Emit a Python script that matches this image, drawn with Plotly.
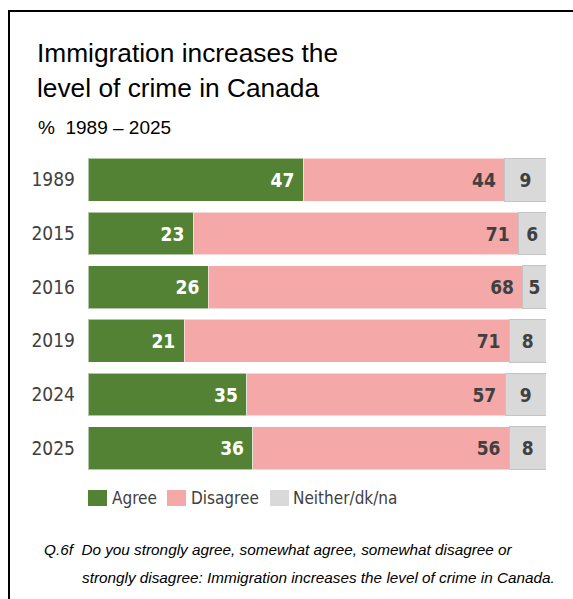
import plotly.graph_objects as go

years = ["1989", "2015", "2016", "2019", "2024", "2025"]
agree = [47, 23, 26, 21, 35, 36]
disagree = [44, 71, 68, 71, 57, 56]
neither = [9, 6, 5, 8, 9, 8]
series_names = ["Agree", "Disagree", "Neither/dk/na"]

W, H = 573, 599
L, R, T, B = 88, 27, 153, 124
PW, PH = W - L - R, H - T - B

def xp(px):
    return (px - L) / PW

def yp(py):
    return (H - B - py) / PH

COND = "DejaVu Sans Condensed, Liberation Sans Narrow, Arial Narrow, sans-serif"
ARIAL = "Liberation Sans, Arial, sans-serif"
GREEN, PINK, GRAY = "#548235", "#F4A9A8", "#D9D9D9"
DARK = "#404040"

fig = go.Figure()
specs = [
    (agree, GREEN, "white", "end", "rgba(255,255,255,0.55)"),
    (disagree, PINK, DARK, "end", "rgba(255,255,255,0.55)"),
    (neither, GRAY, DARK, "middle", "#C4C4C4"),
]
for name, (vals, col, tcol, anchor, lcol) in zip(series_names, specs):
    tt = "%{text}&nbsp;" if anchor == "end" else "%{text}"
    fig.add_trace(go.Bar(
        y=years, x=vals, name=name, orientation="h",
        marker=dict(color=col, line=dict(color=lcol, width=1)),
        text=vals, texttemplate=tt, textposition="inside",
        insidetextanchor=anchor, constraintext="none",
        textfont=dict(family=COND, size=19, color=tcol, weight="bold"),
        showlegend=False, hoverinfo="skip",
    ))

fig.update_layout(
    width=W, height=H, barmode="stack", barnorm="percent", bargap=0.2,
    margin=dict(l=L, r=R, t=T, b=B),
    paper_bgcolor="white", plot_bgcolor="white",
    xaxis=dict(range=[0, 100], visible=False),
    yaxis=dict(categoryorder="array", categoryarray=years, autorange="reversed",
               showline=False, showgrid=False, zeroline=False, ticks="",
               ticklabelstandoff=12,
               tickfont=dict(family=COND, size=19, color=DARK)),
)

ann = []
# Title and subtitle
ann.append(dict(text="Immigration increases the", x=xp(35), y=yp(53)))
ann.append(dict(text="level of crime in Canada", x=xp(35), y=yp(88)))
for a in ann:
    a.update(font=dict(family=ARIAL, size=26.3, color="black"))
ann.append(dict(text="%  1989 – 2025", x=xp(36), y=yp(128),
                font=dict(family=ARIAL, size=19, color="black")))
# Footnote
ann.append(dict(text="<i>Q.6f  Do you strongly agree, somewhat agree, somewhat disagree or</i>",
                x=xp(42), y=yp(549), font=dict(family=ARIAL, size=15.3, color="black")))
ann.append(dict(text="<i>strongly disagree: Immigration increases the level of crime in Canada.</i>",
                x=xp(80), y=yp(577), font=dict(family=ARIAL, size=15.3, color="black")))

# Legend (custom swatches)
shapes = []
leg = [(GREEN, 88, 107, 110), (PINK, 167, 186, 189), (GRAY, 270, 289, 291)]
for name, (col, x0, x1, tx) in zip(series_names, leg):
    shapes.append(dict(type="rect", xref="paper", yref="paper",
                       x0=xp(x0), x1=xp(x1), y0=yp(506), y1=yp(490),
                       fillcolor=col, line=dict(width=0)))
    ann.append(dict(text=name, x=xp(tx), y=yp(498),
                    font=dict(family=COND, size=17, color=DARK)))

for a in ann:
    a.update(xref="paper", yref="paper", xanchor="left", yanchor="middle",
             showarrow=False)
fig.update_layout(annotations=ann)

# Frame lines (left and top)
shapes.append(dict(type="line", xref="paper", yref="paper",
                   x0=xp(9), x1=xp(9), y0=yp(10), y1=yp(H + 2),
                   line=dict(color="black", width=2)))
shapes.append(dict(type="line", xref="paper", yref="paper",
                   x0=xp(8), x1=xp(W + 2), y0=yp(11), y1=yp(11),
                   line=dict(color="black", width=2)))
fig.update_layout(shapes=shapes)

fig.write_html("out.html")
